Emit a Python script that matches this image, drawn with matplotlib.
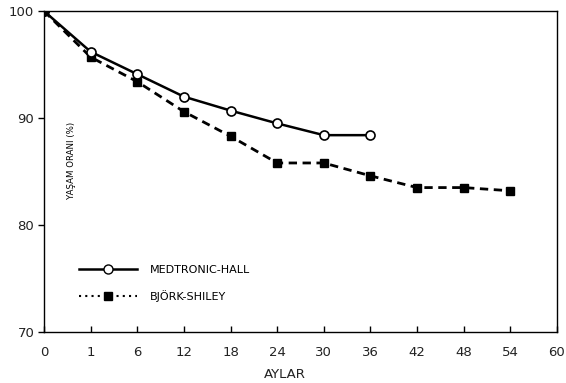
import matplotlib
matplotlib.use("Agg")
import matplotlib.pyplot as plt
from matplotlib.lines import Line2D

months = ["0", "1", "6", "12", "18", "24", "30", "36", "42", "48", "54", "60"]
medtronic = [100, 96.2, 94.1, 92.0, 90.7, 89.5, 88.4, 88.4]
bjork = [100, 95.7, 93.4, 90.6, 88.3, 85.8, 85.8, 84.6, 83.5, 83.5, 83.2]
yticks = [70, 80, 90, 100]

plt.rcParams['font.family'] = ['DejaVu Sans']
fig = plt.figure(figsize=(5.66, 3.83), dpi=100)
ax = fig.add_axes([0.0777, 0.1332, 0.9063, 0.8379])

x_all = list(range(len(months)))
ax.plot(x_all[:len(bjork)], bjork, color='black', lw=2, ls=(0, (3, 2)),
        marker='s', ms=5.5, mfc='black', mec='black', markevery=list(range(1, len(bjork))))
ax.plot(x_all[:len(medtronic)], medtronic, color='black', lw=1.8, ls='-',
        marker='o', ms=6.5, mfc='white', mec='black', mew=1.2,
        markevery=list(range(1, len(medtronic))))
ax.plot([x_all[0]], [medtronic[0]], 'o', color='black', ms=7)

ax.set_xlim(0, len(months) - 1)
ax.set_ylim(70, 100)
ax.set_xticks(x_all)
ax.set_xticklabels(months, fontsize=9.5, color='#222222')
ax.set_yticks(yticks)
ax.set_yticklabels([str(v) for v in yticks], fontsize=9.5, color='#222222')
ax.tick_params(axis='x', direction='in', length=4, width=1, pad=10)
ax.tick_params(axis='y', direction='out', length=4, width=1, pad=3)
for s in ax.spines.values():
    s.set_linewidth(1.0)

fig.text(285 / 566, 1 - 375 / 383, 'AYLAR', fontsize=9.5, ha='center', va='center',
         color='#222222')
fig.text(72 / 566, 1 - 160 / 383, 'YAŞAM ORANI (%)', rotation=90, fontsize=6.2,
         ha='center', va='center')

hm = Line2D([], [], color='black', lw=1.8, marker='o', ms=6.5, mfc='white', mec='black')
hb = Line2D([], [], color='black', lw=1.5, ls=(0, (1, 2)), marker='s', ms=5.5, mfc='black')
ax.legend([hm, hb], ['MEDTRONIC-HALL', 'BJÖRK-SHILEY'], loc='upper left',
          bbox_to_anchor=(0.068, 0.21), frameon=False, fontsize=8,
          handlelength=5.2, labelspacing=1.4, handletextpad=1.2,
          borderpad=0, borderaxespad=0)

fig.savefig('out.png', dpi=100)
